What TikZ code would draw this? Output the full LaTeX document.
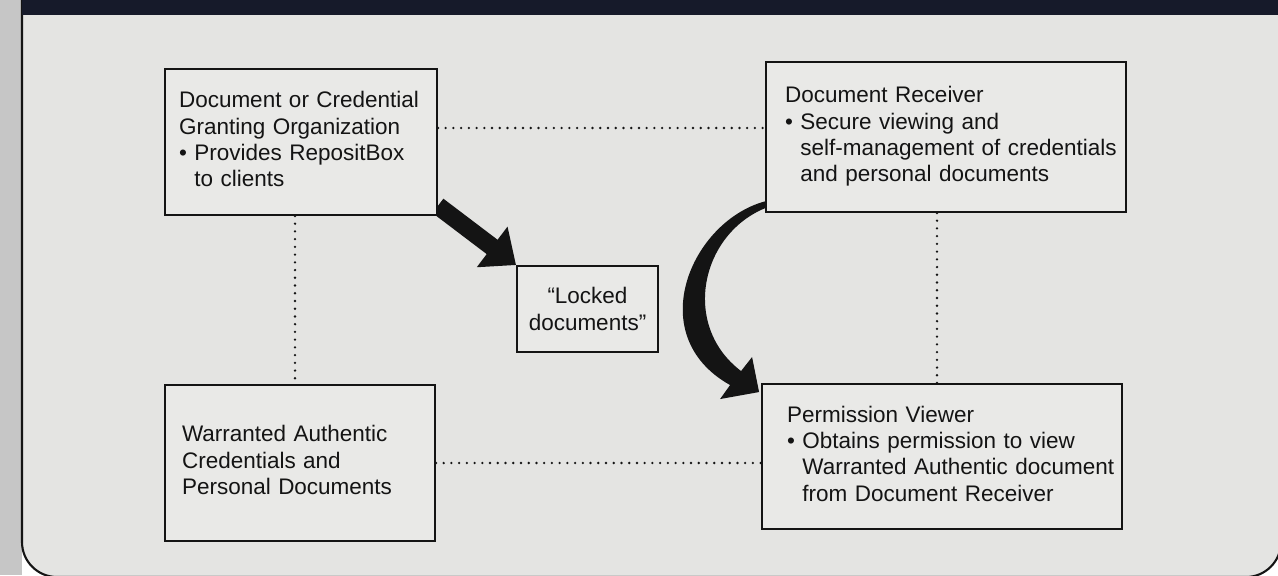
\documentclass[tikz,border=0pt]{standalone}
\usepackage{fontspec}
\setmainfont{Liberation Sans}
\usetikzlibrary{arrows.meta,calc}
\pgfdeclarelayer{back}
\pgfsetlayers{back,main}
\definecolor{pagegray}{RGB}{228,228,226}
\definecolor{boxgray}{RGB}{233,233,231}
\definecolor{guttergray}{RGB}{198,198,198}
\definecolor{bandblue}{RGB}{22,26,42}
\definecolor{ink}{RGB}{20,20,20}
\newcommand{\bul}{\textbullet\ }
\newcommand{\hang}{\phantom{\textbullet\ }}
\newcommand{\boxtext}[1]{\begin{tabular}{@{}l@{}}#1\end{tabular}}

\begin{document}
\begin{tikzpicture}[x=0.02cm, y=-0.02cm,
    box/.style={draw=ink, line width=1.1pt, fill=boxgray, text=ink, align=left,
      font=\fontsize{12.8pt}{15pt}\selectfont},
    dots/.style={draw=ink, line width=1.5pt, line cap=round, dash pattern=on 0pt off 4.4pt},
    bigarrow/.style={draw=ink, line width=0.36cm, -{Triangle[width=0.98cm,length=0.6cm]}}]
  \useasboundingbox (0,0) rectangle (1278,575);
  \begin{pgfonlayer}{back}
    \fill[guttergray] (0,0) rectangle (22,575);
    \draw[ink, line width=1.2pt, fill=pagegray, rounded corners=0.7cm] (22,-40) rectangle (1281,577);
    \fill[bandblue] (22,0) rectangle (1278,15);
  \end{pgfonlayer}

  \node[box, text width=4.88cm, inner xsep=0.28cm, minimum height=2.92cm] (org) at (301,142)
    {\boxtext{Document or Credential\\Granting Organization\\\bul Provides RepositBox\\\hang to clients}};
  \node[box, text width=6.44cm, inner xsep=0.38cm, minimum height=3.0cm] (recv) at (946,137)
    {\boxtext{Document Receiver\\\bul Secure viewing and\\\hang self-management of credentials\\\hang and personal documents}};
  \node[box, align=center, minimum width=2.82cm, minimum height=1.72cm] (locked) at (587.5,309)
    {“Locked\\documents”};
  \node[box, text width=4.72cm, inner xsep=0.34cm, minimum height=3.12cm] (warr) at (300,463)
    {\boxtext{Warranted Authentic\\Credentials and\\Personal Documents}};
  \node[box, text width=6.2cm, inner xsep=0.5cm, minimum height=2.9cm] (perm) at (942,456.5)
    {\boxtext{Permission Viewer\\\bul Obtains permission to view\\\hang Warranted Authentic document\\\hang from Document Receiver}};

  \coordinate (d1) at ([yshift=0.28cm]org.east);
  \coordinate (d2) at ([xshift=-0.12cm]org.south);
  \coordinate (d3) at ([xshift=-0.18cm]recv.south);
  \draw[dots] (d1) -- (d1 -| recv.west);
  \draw[dots] (d2) -- (d2 |- warr.north);
  \draw[dots] (d3) -- (d3 |- perm.north);
  \draw[dots] (warr.east) -- (warr.east -| perm.west);

  \begin{pgfonlayer}{back}
    \draw[bigarrow] (org.-25) -- (locked.north west);
    \fill[ink] ($(recv.south west)+(6,-13)$) .. controls +(-77,15) and +(-91,-51) .. ($(perm.north west)+(-31,2)$)
      -- ($(perm.north west)+(-41,16)$) -- ($(perm.north west)+(-2,9)$) -- ($(perm.north west)+(-9,-26)$)
      -- ($(perm.north west)+(-20,-12)$) .. controls +(-62,-47) and +(-69,23) .. ($(recv.south west)+(6,-7)$) -- cycle;
  \end{pgfonlayer}
\end{tikzpicture}
\end{document}
